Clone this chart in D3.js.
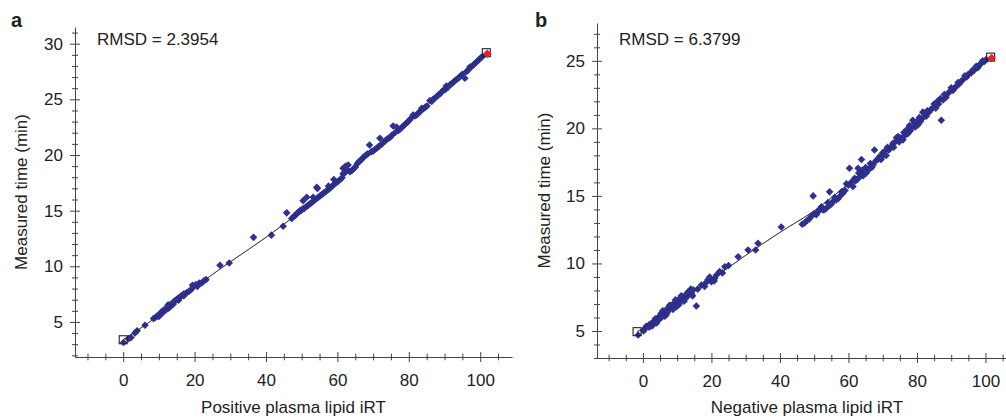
<!DOCTYPE html>
<html><head><meta charset="utf-8">
<script src="https://cdn.jsdelivr.net/npm/d3@7"></script>
<style>
body{margin:0;background:#fff;}
text{font-family:"Liberation Sans",Arial,sans-serif;fill:#222;}
</style></head>
<body><svg id="c" width="1006" height="420"></svg>
<script>
// ---------- Panel a: positive plasma lipid iRT ----------
const posIRT = [0.1,1.5,2.2,3.3,3.9,6.1,
 8.5,9.0,9.4,9.8,10.0,10.2,10.5,10.9,11.0,11.2,11.6,11.9,12.0,12.3,12.5,12.6,12.8,13.0,13.1,13.4,13.8,14.0,14.2,14.6,15.0,15.3,15.5,15.7,16.1,16.5,16.9,17.0,17.3,17.8,18.4,19.0,19.4,19.8,20.3,20.8,21.3,22.0,22.6,23.2,
 27.1,29.7,36.5,41.5,44.8,45.8,47.2,
 47.8,48.3,48.8,49.3,49.5,49.8,50.2,50.4,50.7,51.2,51.4,51.7,52.2,52.7,53.2,53.2,53.7,54.2,54.2,54.4,54.7,55.2,55.7,56.2,56.7,57.2,57.5,57.7,58.2,58.7,59.0,59.2,59.7,60.2,60.8,61.3,
 61.6,61.6,61.9,62.0,62.4,62.7,63.0,63.5,64.0,64.5,65.0,
 65.5,66.0,66.5,67.0,67.5,68.0,68.5,69.0,69.5,70.0,70.5,71.0,71.5,71.9,72.3,72.8,73.3,73.8,74.3,74.8,75.3,75.6,76.1,76.6,77.1,77.6,78.1,78.6,79.1,79.6,80.1,80.6,81.2,81.7,82.2,82.7,83.2,83.6,84.1,84.6,85.1,85.9,86.4,86.8,87.3,87.8,88.3,88.8,89.3,89.8,90.3,90.5,91.0,91.5,92.0,92.5,93.0,93.5,94.0,94.5,95.0,95.7,96.2,96.7,97.1,97.6,98.1,98.6,99.1,99.6,100.1,100.6];
const posTime = [3.15,3.5,3.6,4.0,4.2,4.7,
 5.3,5.4,5.5,5.6,5.5,5.7,5.8,5.95,5.8,6.0,6.1,6.2,6.1,6.35,6.2,6.55,6.45,6.3,6.5,6.6,6.7,6.6,6.8,6.95,7.0,7.1,6.95,7.2,7.3,7.35,7.5,7.35,7.5,7.65,7.75,7.9,8.3,8.2,8.35,8.2,8.5,8.5,8.7,8.8,
 10.1,10.3,12.6,12.8,13.6,14.8,14.3,
 14.5,14.6,14.8,14.9,15.0,15.0,15.15,15.9,15.2,15.35,16.2,15.45,15.6,15.7,15.85,16.2,15.95,16.1,17.1,17.0,16.2,16.35,16.45,16.6,16.7,16.85,17.2,16.95,17.1,17.25,17.8,17.4,17.5,17.65,17.8,17.95,
 18.3,18.8,18.4,18.9,19.0,18.7,19.1,18.5,18.6,18.75,18.9,
 19.2,19.4,19.5,19.7,19.85,20.0,20.1,20.9,20.3,20.35,20.5,20.6,20.75,21.5,20.95,21.1,21.25,21.4,21.5,21.6,21.8,22.6,22.0,22.5,22.2,22.35,22.5,22.65,22.8,22.95,23.1,23.3,23.6,23.5,23.6,23.8,23.9,24.2,24.15,24.3,24.4,24.9,24.8,25.0,25.1,25.25,25.4,25.5,25.7,25.85,25.9,26.2,26.1,26.3,26.4,26.55,26.7,26.8,26.95,27.1,27.25,26.9,27.5,27.65,27.9,27.95,28.1,28.25,28.4,28.55,28.7,28.85];
const posFitIRT  = [0,10,20,30,40,50,60,70,80,90,101.7];
const posFitTime = [3.4,5.6,8.1,10.4,12.6,15.0,17.6,20.3,23.1,26.0,29.1];
const posAnchorIRT  = [0,101.7];
const posAnchorTime = [3.4,29.1];

// ---------- Panel b: negative plasma lipid iRT ----------
const negIRT = [-1.4,0.2,0.6,1.0,1.5,1.8,2.0,2.5,2.8,3.0,3.4,3.6,3.8,4.0,4.2,4.4,4.6,5.0,5.2,5.3,5.6,5.8,6.0,6.3,6.4,6.6,6.8,7.0,7.2,7.3,7.6,7.8,8.0,8.3,8.6,8.8,9.0,9.3,9.5,9.6,9.8,10.0,10.3,10.5,10.7,11.0,11.2,11.4,11.8,12.0,12.2,12.4,12.6,13.0,13.2,13.4,13.8,14.0,14.2,14.5,14.7,15.6,
 16.0,17.1,18.0,18.5,19.0,19.5,20.0,20.8,21.0,21.5,22.4,23.2,23.9,25.0,
 27.8,30.7,32.9,33.6,40.4,46.5,47.2,48.0,48.6,49.2,49.7,50.1,50.6,51.1,51.6,52.1,52.6,53.1,53.6,54.0,54.5,54.5,55.0,55.5,56.0,56.4,57.0,57.4,58.0,58.4,59.0,59.4,60.0,
 60.3,60.8,61.3,61.8,62.0,62.5,62.8,63.0,63.3,63.8,64.0,64.3,65.0,65.2,65.7,66.0,66.4,66.8,67.2,67.6,68.0,68.6,69.0,69.5,70.0,70.2,70.6,71.0,71.4,71.8,72.0,72.5,73.0,73.2,73.7,74.0,74.5,74.8,75.3,75.9,76.2,76.6,77.0,77.3,77.8,78.0,78.4,78.8,79.2,79.5,80.0,80.3,80.7,81.0,81.4,81.7,82.2,82.7,83.0,83.5,84.0,84.6,85.0,85.5,86.0,86.3,86.8,87.1,87.6,88.0,88.5,89.0,89.5,90.0,90.5,91.0,91.5,92.0,92.4,93.0,93.4,94.0,94.5,95.0,95.8,96.2,96.7,97.3,97.8,98.2,98.7,99.2,99.7,100.2];
const negTime = [4.7,5.0,5.2,5.35,5.3,5.45,5.3,5.57,5.4,5.55,5.75,5.9,5.7,5.6,5.9,6.0,5.85,6.05,5.95,6.3,6.1,6.5,6.3,6.45,6.1,6.25,6.2,6.5,6.4,6.7,6.55,6.9,6.75,6.9,6.7,6.6,6.95,7.1,7.3,6.9,6.8,7.15,7.3,6.95,7.1,7.35,7.6,7.5,7.3,7.2,7.6,7.4,7.7,7.55,7.9,7.8,7.95,8.1,7.75,7.6,8.04,6.85,
 8.1,8.4,8.3,8.6,8.8,9.0,8.65,8.7,8.9,9.15,9.4,9.3,9.76,9.85,
 10.5,11.0,11.0,11.5,12.7,12.9,13.0,13.2,13.3,13.5,15.0,13.7,13.6,13.8,14.0,14.2,13.96,14.0,14.1,14.5,14.3,15.3,14.4,14.6,14.9,14.7,14.8,14.95,15.3,15.2,15.4,15.9,15.8,
 17.05,16.0,15.7,16.3,16.1,16.2,17.05,16.7,16.4,17.7,16.9,16.5,17.1,16.7,16.9,17.0,17.4,17.1,17.3,18.4,17.6,17.7,17.9,17.7,18.2,18.0,18.3,18.0,18.6,18.4,18.5,18.65,18.9,18.6,19.0,19.3,19.4,19.0,19.3,19.15,19.7,19.5,19.9,19.6,20.2,19.8,20.0,20.6,20.4,20.1,20.5,20.26,20.8,20.5,20.7,21.2,21.1,20.9,21.3,21.2,21.4,21.5,21.8,21.5,22.0,21.8,22.2,20.6,22.1,22.5,22.3,22.6,22.7,23.0,22.8,23.0,23.1,23.4,23.3,23.5,23.6,23.9,23.8,24.0,24.1,24.3,24.3,24.6,24.5,24.7,24.8,25.0,24.95,25.1];
const negFitIRT  = [-1.7,0,10,20,30,40,50,60,70,80,90,101.5];
const negFitTime = [4.95,5.2,7.1,8.8,10.6,12.3,13.9,15.9,18.1,20.4,22.8,25.2];
const negAnchorIRT  = [-1.7,101.5];
const negAnchorTime = [4.95,25.2];

const xMajor = [0,20,40,60,80,100];
const xMinor = [-10,-5,5,10,15,25,30,35,45,50,55,65,70,75,85,90,95,105];
const yMajorA = [5,10,15,20,25,30];
const yMajorB = [5,10,15,20,25];
const panelLabels = ["a","b"];
const rmsdLabels = ["RMSD = 2.3954","RMSD = 6.3799"];
const xTitles = ["Positive plasma lipid iRT","Negative plasma lipid iRT"];
const yTitle = "Measured time (min)";

const svg = d3.select("#c");
const dotColor = "#2e3192";

function panel(cfg){
  const g = svg.append("g");
  const x = d3.scaleLinear().domain(cfg.xDom).range(cfg.xRange);
  const y = d3.scaleLinear().domain(cfg.yDom).range(cfg.yRange);
  const x0 = cfg.xRange[0], yb = cfg.yRange[0];

  // x axis
  const xa = g.append("g").attr("transform",`translate(0,${yb})`)
    .call(d3.axisBottom(x).tickValues(xMajor).tickSizeOuter(0).tickFormat(d3.format("d")));
  xa.selectAll(".tick line").attr("y1",-5).attr("y2",5);
  const xm = g.append("g").attr("transform",`translate(0,${yb})`)
    .call(d3.axisBottom(x).tickValues(xMinor.filter(v=>v>=cfg.xDom[0]&&v<=cfg.xDom[1])).tickSizeOuter(0).tickFormat(""));
  xm.select(".domain").remove();
  xm.selectAll(".tick line").attr("y1",-3.3).attr("y2",3.3);
  xa.selectAll(".tick text").attr("y",17).attr("dy","0.71em").style("font-size","17px");

  // y axis
  const ya = g.append("g").attr("transform",`translate(${x0},0)`)
    .call(d3.axisLeft(y).tickValues(cfg.yMajor).tickSizeOuter(0).tickFormat(d3.format("d")));
  ya.selectAll(".tick line").attr("x1",5).attr("x2",-5);
  ya.selectAll(".tick text").attr("x",-12).style("font-size","17px");
  const yMinor = d3.range(Math.ceil(cfg.yDom[0]), Math.floor(cfg.yDom[1])+1).filter(v=>v%5!==0);
  const ym = g.append("g").attr("transform",`translate(${x0},0)`)
    .call(d3.axisLeft(y).tickValues(yMinor).tickSizeOuter(0).tickFormat(""));
  ym.select(".domain").remove();
  ym.selectAll(".tick line").attr("x1",3).attr("x2",-3);

  g.selectAll(".domain, .tick line").attr("stroke","#444");
  g.selectAll(".tick text").attr("fill","#222").style("font-family","'Liberation Sans',Arial,sans-serif");

  // fit line
  const line = d3.line().x(d=>x(d[0])).y(d=>y(d[1])).curve(d3.curveMonotoneX);
  g.append("path").datum(d3.zip(cfg.fitX,cfg.fitY)).attr("d",line)
    .attr("fill","none").attr("stroke","#555").attr("stroke-width",1);

  // points
  const r = 3.8;
  const diamond = `M0,${-r}L${r},0L0,${r}L${-r},0Z`;
  g.append("g").selectAll("path").data(d3.zip(cfg.px,cfg.py)).join("path")
    .attr("d",diamond).attr("transform",d=>`translate(${x(d[0])},${y(d[1])})`)
    .attr("fill",dotColor);
  // line faintly over dense band
  g.append("path").datum(d3.zip(cfg.fitX,cfg.fitY)).attr("d",line)
    .attr("fill","none").attr("stroke","#222").attr("stroke-width",0.8).attr("opacity",0.6);

  // anchors
  const ax = cfg.ancX, ay = cfg.ancY;
  g.append("rect").attr("x",x(ax[0])-4).attr("y",y(ay[0])-4).attr("width",8).attr("height",8)
    .attr("fill","none").attr("stroke","#222").attr("stroke-width",1.1);
  g.append("rect").attr("x",x(ax[1])-4).attr("y",y(ay[1])-5).attr("width",8).attr("height",8)
    .attr("fill","none").attr("stroke","#222").attr("stroke-width",1.1);
  const rr = 4.3;
  g.append("path").attr("d",`M0,${-rr}L${rr},0L0,${rr}L${-rr},0Z`)
    .attr("transform",`translate(${x(ax[1])+1},${y(ay[1])})`).attr("fill","#e8202a");

  // texts
  svg.append("text").attr("x",cfg.labelX).attr("y",27).text(cfg.label)
    .style("font-size","20px").style("font-weight","bold").attr("fill","#000");
  svg.append("text").attr("x",cfg.rmsdX).attr("y",45).text(cfg.rmsd).style("font-size","17px");
  svg.append("text").attr("x",(cfg.xRange[0]+cfg.xRange[1])/2).attr("y",413)
    .attr("text-anchor","middle").text(cfg.xTitle).style("font-size","17px");
  svg.append("text").attr("transform",`translate(${cfg.yTitleX},${(cfg.yRange[0]+cfg.yRange[1])/2}) rotate(-90)`)
    .attr("text-anchor","middle").text(yTitle).style("font-size","17px");
}

panel({xDom:[-13.5,108.9], xRange:[75,512], yDom:[1.85,31.5], yRange:[357,27],
  yMajor:yMajorA, px:posIRT, py:posTime, fitX:posFitIRT, fitY:posFitTime,
  ancX:posAnchorIRT, ancY:posAnchorTime, label:panelLabels[0], labelX:11,
  rmsd:rmsdLabels[0], rmsdX:97, xTitle:xTitles[0], yTitleX:27});
panel({xDom:[-13.4,109.2], xRange:[597,1017], yDom:[3.0,27.8], yRange:[358,23],
  yMajor:yMajorB, px:negIRT, py:negTime, fitX:negFitIRT, fitY:negFitTime,
  ancX:negAnchorIRT, ancY:negAnchorTime, label:panelLabels[1], labelX:535,
  rmsd:rmsdLabels[1], rmsdX:619, xTitle:xTitles[1], yTitleX:550});
</script></body></html>
